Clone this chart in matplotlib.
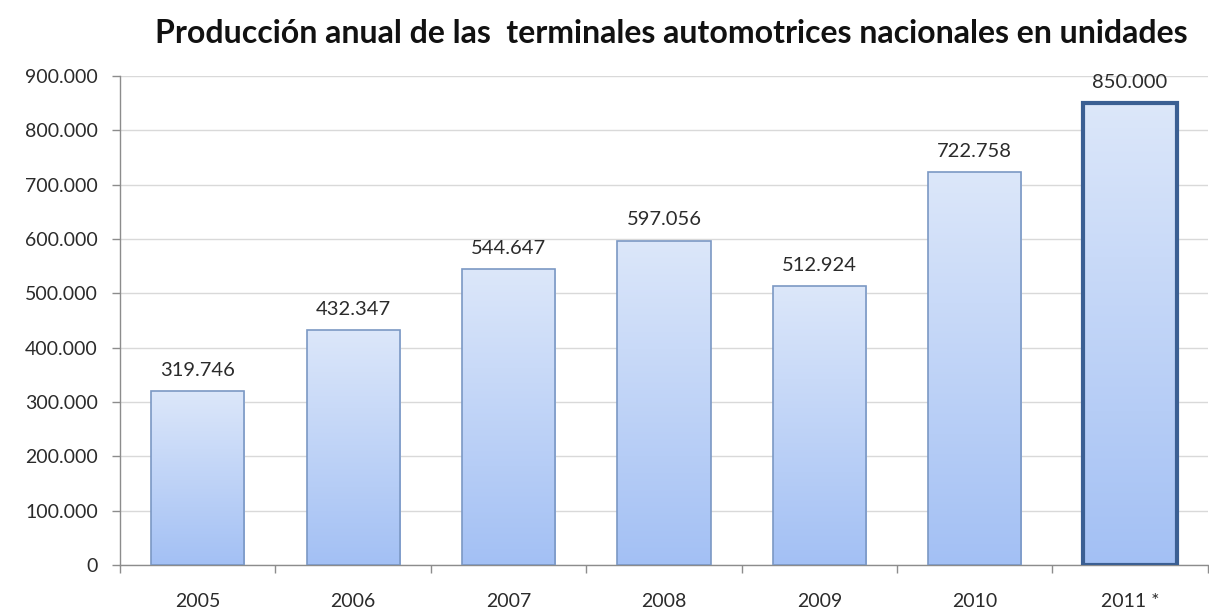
import numpy as np
import matplotlib
matplotlib.use("Agg")
import matplotlib.pyplot as plt
from matplotlib.colors import LinearSegmentedColormap

plt.rcParams['font.family'] = ['Lato', 'DejaVu Sans']

# Annual output of the national automotive plants (units)
years = ["2005", "2006", "2007", "2008", "2009", "2010", "2011 *"]
units = [319746, 432347, 544647, 597056, 512924, 722758, 850000]
value_labels = ["319.746", "432.347", "544.647", "597.056", "512.924", "722.758", "850.000"]
yticks = [0, 100000, 200000, 300000, 400000, 500000, 600000, 700000, 800000, 900000]
ytick_labels = ["0", "100.000", "200.000", "300.000", "400.000", "500.000",
                "600.000", "700.000", "800.000", "900.000"]
title = "Producción anual de las  terminales automotrices nacionales en unidades"

fig = plt.figure(figsize=(12.09, 6.15), dpi=100)
ax = fig.add_axes([0.0993, 0.0813, 0.8997, 0.7950])

x = np.arange(len(years))
ax.set_xlim(-0.5, len(years) - 0.5)
ax.set_ylim(0, 900000)

# gridlines
ax.set_yticks(yticks)
ax.set_yticklabels(ytick_labels)
ax.yaxis.grid(True, color="#d9d9d9", linewidth=1.0)
ax.set_axisbelow(True)

grad = LinearSegmentedColormap.from_list("barfill", ["#a3c0f4", "#dce7fa"])
gradient = np.linspace(0, 1, 256).reshape(-1, 1)

bars = ax.bar(x, units, width=0.6, facecolor="none", edgecolor="#7b98c4",
              linewidth=1.2, zorder=3)
for i, b in enumerate(bars):
    x0, y0 = b.get_x(), b.get_y()
    w, h = b.get_width(), b.get_height()
    im = ax.imshow(gradient, cmap=grad, origin="lower", aspect="auto",
                   extent=[x0, x0 + w, y0, y0 + h], zorder=2,
                   interpolation="bicubic")
    im.set_clip_path(b)
    if i == len(years) - 1:
        b.set_edgecolor("#3b5f93")
        b.set_linewidth(3.0)
        b.set_joinstyle("miter")

for xi, v, lab in zip(x, units, value_labels):
    ax.annotate(lab, (xi, v), xytext=(0, 9), textcoords="offset points",
                ha="center", va="bottom", fontsize=14.5, color="#2b2b2b")

# category boundaries as tick marks, names centred between them
ax.set_xticks(np.arange(-0.5, len(years), 1.0))
ax.set_xticklabels([])
ax.set_xticks(x, minor=True)
ax.set_xticklabels(years, minor=True)
ax.tick_params(axis="x", which="major", length=6, color="#8c8c8c", width=1)
ax.tick_params(axis="x", which="minor", length=0, pad=20, labelsize=14,
               labelcolor="#2b2b2b")
ax.tick_params(axis="y", length=6, color="#8c8c8c", width=1, labelsize=14,
               labelcolor="#2b2b2b", pad=10)

for side in ("top", "right"):
    ax.spines[side].set_visible(False)
for side in ("left", "bottom"):
    ax.spines[side].set_color("#8c8c8c")
    ax.spines[side].set_linewidth(1.0)

fig.text(0.555, 0.945, title, ha="center", va="center", fontsize=23,
         fontweight="bold", color="#111111")

fig.savefig("out.png", dpi=100)
